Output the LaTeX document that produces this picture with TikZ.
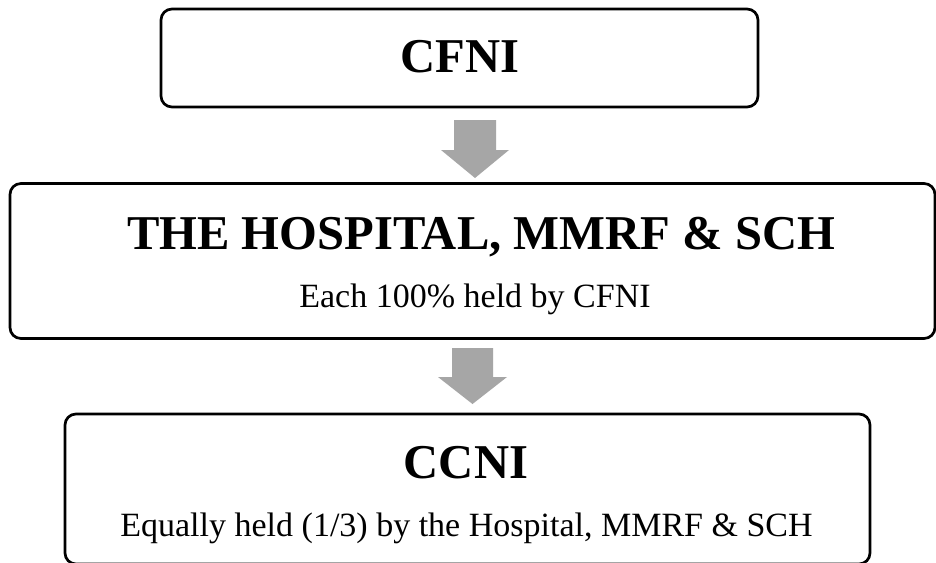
\documentclass[tikz,border=0pt]{standalone}
\usepackage{fontspec}
\setmainfont{Liberation Serif}
\definecolor{arrowgray}{RGB}{166,166,166}
\tikzset{
  box/.style={draw=black, line width=2.7pt, rounded corners=11pt, inner sep=0pt, fill=white},
  titletext/.style={inner sep=0pt, anchor=base, font=\fontsize{48.6}{58}\selectfont\bfseries},
  subtext/.style={inner sep=0pt, anchor=base, font=\fontsize{34}{40}\selectfont},
  blockarrow/.style={fill=arrowgray, draw=none}
}
\begin{document}
\begin{tikzpicture}[x=1pt, y=-1pt]
\clip (0,0) rectangle (936,562);
\fill[white] (0,0) rectangle (936,562);
% boxes
\node[box, minimum width=597pt, minimum height=98pt] (b1) at (459.5,58) {};
\node[box, minimum width=925pt, minimum height=155pt] (b2) at (472.5,261) {};
\node[box, minimum width=805pt, minimum height=150pt] (b3) at (467.5,489) {};
% texts
\node[titletext] (t1) at (460,72) {CFNI};
\node[titletext] (t2) at (481,249) {THE HOSPITAL, MMRF \& SCH};
\node[subtext] (s2) at (475,307) {Each 100\% held by CFNI};
\node[titletext] (t3) at (466,478) {CCNI};
\node[subtext] (s3) at (466.5,536) {Equally held (1/3) by the Hospital, MMRF \& SCH};
% arrows
\coordinate (a1) at (475,120);
\coordinate (a2) at (472.5,348);
\fill[blockarrow] (a1) ++(-21,0) -- ++(42,0) -- ++(0,30) -- ++(13,0) -- ++(-34,28) -- ++(-34,-28) -- ++(13,0) -- cycle;
\fill[blockarrow] (a2) ++(-20.5,0) -- ++(41,0) -- ++(0,29) -- ++(14,0) -- ++(-34.5,27) -- ++(-34.5,-27) -- ++(14,0) -- cycle;
\end{tikzpicture}
\end{document}
